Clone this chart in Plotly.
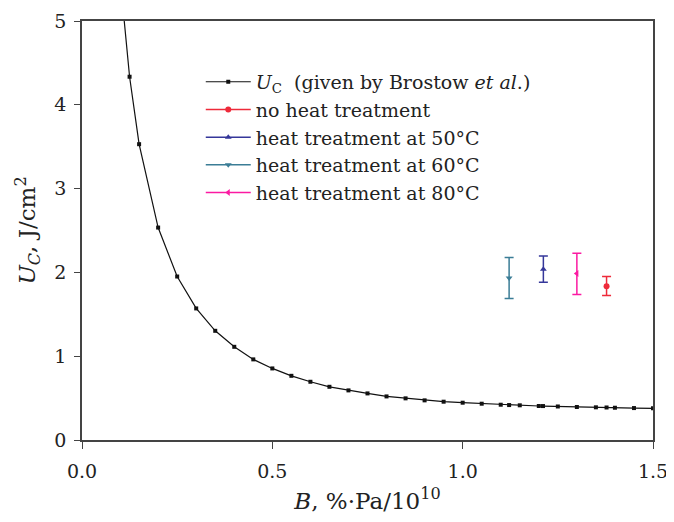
import plotly.graph_objects as go

# Brostow curve U_C vs B
b_curve = [0.10, 0.125, 0.15, 0.20, 0.25, 0.30, 0.35, 0.40, 0.45, 0.50, 0.55, 0.60, 0.65,
           0.70, 0.75, 0.80, 0.85, 0.90, 0.95, 1.00, 1.05, 1.10, 1.122, 1.15, 1.20, 1.211,
           1.25, 1.30, 1.35, 1.378, 1.40, 1.45, 1.50]
u_curve = [5.52, 4.335, 3.53, 2.535, 1.951, 1.57, 1.303, 1.112, 0.962, 0.854, 0.766, 0.695, 0.635,
           0.592, 0.556, 0.520, 0.497, 0.473, 0.457, 0.445, 0.433, 0.421, 0.417, 0.414, 0.406, 0.405,
           0.400, 0.394, 0.390, 0.388, 0.385, 0.381, 0.378]

# measured points (x, mean, upper error, lower error)
names = ["no heat treatment", "heat treatment at 50°C",
         "heat treatment at 60°C", "heat treatment at 80°C"]
b_meas = [1.378, 1.212, 1.122, 1.300]
u_meas = [1.835, 2.038, 1.934, 1.987]
err_up = [0.116, 0.159, 0.244, 0.242]
err_dn = [0.110, 0.155, 0.245, 0.250]
colors = ["#ee2a3a", "#35379a", "#3b7d96", "#fb1aa2"]
symbols = ["circle", "triangle-up", "triangle-down", "triangle-left"]

FONT = "DejaVu Serif"

fig = go.Figure()
fig.add_trace(go.Scatter(
    x=b_curve, y=u_curve, mode="lines+markers",
    name="<i>U</i><sub>C</sub>  (given by Brostow <i>et al</i>.)",
    line=dict(color="#111111", width=1.2),
    marker=dict(symbol="square", size=4, color="#111111"),
))
for i in range(len(names)):
    fig.add_trace(go.Scatter(
        x=[b_meas[i]], y=[u_meas[i]], mode="lines+markers", name=names[i],
        line=dict(color=colors[i], width=1.5),
        marker=dict(symbol=symbols[i], size=6, color=colors[i]),
        error_y=dict(type="data", symmetric=False, array=[err_up[i]], arrayminus=[err_dn[i]],
                     color=colors[i], thickness=1.5, width=4.5),
    ))

# page body adds an 8px offset, so the figure is a bit smaller than the window
fig.update_layout(
    width=666, height=514,
    margin=dict(l=74, r=21, t=13, b=82),
    paper_bgcolor="white", plot_bgcolor="white",
    font=dict(family=FONT, size=19, color="#222222"),
    legend=dict(x=0.208, y=0.9, xanchor="left", yanchor="top",
                bgcolor="rgba(0,0,0,0)", tracegroupgap=0,
                font=dict(family=FONT, size=19), itemwidth=45),
    showlegend=True,
)
fig.update_xaxes(
    range=[0, 1.5], tickvals=[0, 0.5, 1.0, 1.5], ticktext=["0.0", "0.5", "1.0", "1.5"],
    showgrid=False, zeroline=False, showline=True, linecolor="#444444", linewidth=1.5,
    mirror=True, ticks="outside", ticklen=7, tickcolor="#444444", automargin=False,
    ticklabelstandoff=6,
    title=dict(text="<i>B</i>, %·Pa/10<sup>10</sup>", standoff=12),
)
fig.update_yaxes(
    range=[0, 5], tickvals=[0, 1, 2, 3, 4, 5],
    showgrid=False, zeroline=False, showline=True, linecolor="#444444", linewidth=1.5,
    mirror=True, ticks="outside", ticklen=6, tickcolor="#444444", automargin=False,
    ticklabelstandoff=4,
    title=dict(text="<i>U<sub>C</sub></i>, J/cm<sup>2</sup>", standoff=12),
)

fig.write_html("out.html")
